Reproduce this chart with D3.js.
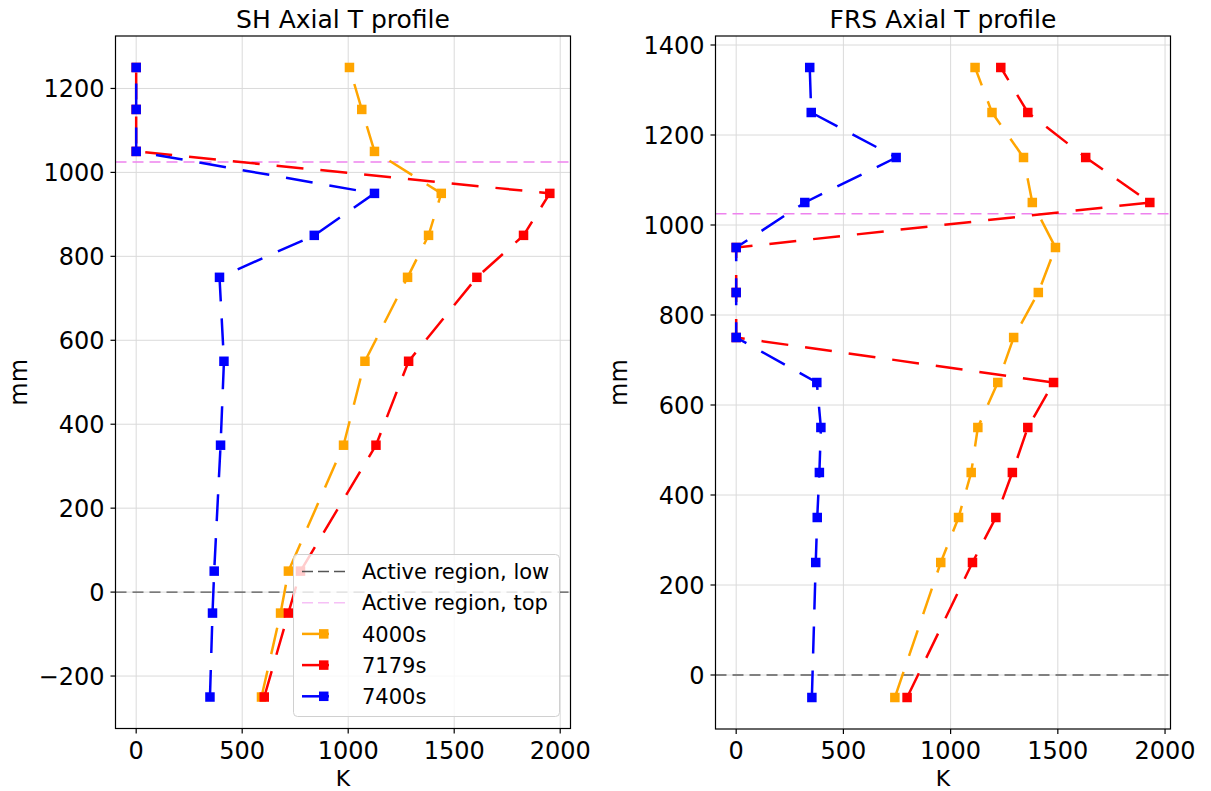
<!DOCTYPE html>
<html>
<head>
<meta charset="utf-8">
<script src="https://cdn.jsdelivr.net/npm/d3@7"></script>
<style>
  html, body { margin: 0; padding: 0; background: #fff; }
  svg { display: block; font-family: "DejaVu Sans", sans-serif; }
</style>
</head>
<body>
<svg id="chart" width="1211" height="791"></svg>
<script>
// ---------------- data ----------------
const seriesNames = ["4000s", "7179s", "7400s"];
const seriesColors = ["#ffa500", "#ff0000", "#0000ff"];

// SH Axial T profile
const shHeights = [-250, -50, 50, 350, 550, 750, 850, 950, 1050, 1150, 1250];
const sh4000 = [591, 681, 718, 978, 1079, 1280, 1379, 1439, 1124, 1064, 1006];
const sh7179 = [604, 718, 775, 1131, 1285, 1607, 1827, 1951, 0, 0, 0];
const sh7400 = [348, 360, 368, 398, 414, 393, 840, 1124, 0, 0, 0];

// FRS Axial T profile
const frsHeights = [-50, 250, 350, 450, 550, 650, 750, 850, 950, 1050, 1150, 1250, 1350];
const frs4000 = [740, 954, 1037, 1096, 1127, 1220, 1294, 1409, 1489, 1381, 1340, 1193, 1114];
const frs7179 = [797, 1102, 1211, 1288, 1360, 1480, 0, 0, 0, 1929, 1630, 1360, 1234];
const frs7400 = [353, 371, 378, 388, 395, 376, 0, 0, 0, 320, 746, 350, 343];

const activeLow = 0;
const activeTop = 1025;

const xTicks = [0, 500, 1000, 1500, 2000];
const shYTicks = [-200, 0, 200, 400, 600, 800, 1000, 1200];
const frsYTicks = [0, 200, 400, 600, 800, 1000, 1200, 1400];

const legendLabels = ["Active region, low", "Active region, top", "4000s", "7179s", "7400s"];

// ---------------- drawing ----------------
const svg = d3.select("#chart");
const FONT = "DejaVu Sans, sans-serif";

function padDomain(vals) {
  const [a, b] = d3.extent(vals);
  const p = (b - a) * 0.05;
  return [a - p, b + p];
}

function drawPanel(opts) {
  const { left, right, top, bottom, title, heights, series, yTicks, lowStyle, legend } = opts;
  const allX = series.flat();
  const x = d3.scaleLinear().domain(padDomain(allX)).range([left, right]);
  const y = d3.scaleLinear().domain(padDomain(heights)).range([bottom, top]);

  const g = svg.append("g");
  const clipId = "clip" + Math.round(left);
  svg.append("clipPath").attr("id", clipId)
    .append("rect").attr("x", left).attr("y", top).attr("width", right - left).attr("height", bottom - top);

  // grid
  const grid = g.append("g");
  grid.selectAll("line.vx").data(xTicks).enter().append("line")
    .attr("x1", d => x(d)).attr("x2", d => x(d)).attr("y1", top).attr("y2", bottom)
    .attr("stroke", "#dadada").attr("stroke-width", 1);
  grid.selectAll("line.hy").data(yTicks).enter().append("line")
    .attr("y1", d => y(d)).attr("y2", d => y(d)).attr("x1", left).attr("x2", right)
    .attr("stroke", "#dadada").attr("stroke-width", 1);

  const plot = g.append("g").attr("clip-path", `url(#${clipId})`);

  // active region lines
  plot.append("line")
    .attr("x1", left).attr("x2", right).attr("y1", y(activeLow)).attr("y2", y(activeLow))
    .attr("stroke", lowStyle.color).attr("stroke-width", lowStyle.width)
    .attr("stroke-dasharray", "11,6");
  plot.append("line")
    .attr("x1", left).attr("x2", right).attr("y1", y(activeTop)).attr("y2", y(activeTop))
    .attr("stroke", "#ee82ee").attr("stroke-width", 1.5)
    .attr("stroke-dasharray", "11,6");

  // series
  const line = d3.line().x(d => x(d[0])).y(d => y(d[1]));
  series.forEach((vals, i) => {
    const pts = vals.map((v, j) => [v, heights[j]]);
    plot.append("path").datum(pts)
      .attr("d", line).attr("fill", "none")
      .attr("stroke", seriesColors[i]).attr("stroke-width", 2.5)
      .attr("stroke-dasharray", "27,17");
    plot.selectAll(null).data(pts).enter().append("rect")
      .attr("x", d => x(d[0]) - 4.75).attr("y", d => y(d[1]) - 4.75)
      .attr("width", 9.5).attr("height", 9.5)
      .attr("fill", seriesColors[i]);
  });

  // frame
  g.append("rect").attr("x", left).attr("y", top)
    .attr("width", right - left).attr("height", bottom - top)
    .attr("fill", "none").attr("stroke", "#000").attr("stroke-width", 1.2);

  // x ticks
  const xa = g.append("g");
  xa.selectAll("line").data(xTicks).enter().append("line")
    .attr("x1", d => x(d)).attr("x2", d => x(d)).attr("y1", bottom).attr("y2", bottom + 5)
    .attr("stroke", "#000").attr("stroke-width", 1.2);
  xa.selectAll("text").data(xTicks).enter().append("text")
    .attr("x", d => x(d)).attr("y", bottom + 30)
    .attr("text-anchor", "middle").attr("font-size", 24).attr("font-family", FONT)
    .attr("fill", "#000").text(d => d3.format("d")(d));

  // y ticks
  const ya = g.append("g");
  ya.selectAll("line").data(yTicks).enter().append("line")
    .attr("y1", d => y(d)).attr("y2", d => y(d)).attr("x1", left - 5).attr("x2", left)
    .attr("stroke", "#000").attr("stroke-width", 1.2);
  ya.selectAll("text").data(yTicks).enter().append("text")
    .attr("x", left - 11).attr("y", d => y(d) + 8.7)
    .attr("text-anchor", "end").attr("font-size", 24).attr("font-family", FONT)
    .attr("fill", "#000").text(d => d < 0 ? "\u2212" + Math.abs(d) : String(d));

  // labels
  const cx = (left + right) / 2;
  g.append("text").attr("x", cx).attr("y", 28)
    .attr("text-anchor", "middle").attr("font-size", 25).attr("font-family", FONT)
    .text(title);
  g.append("text").attr("x", cx).attr("y", 786)
    .attr("text-anchor", "middle").attr("font-size", 22).attr("font-family", FONT)
    .text("K");
  g.append("text")
    .attr("transform", `translate(${left - 89},${(top + bottom) / 2}) rotate(-90)`)
    .attr("text-anchor", "middle").attr("font-size", 24).attr("font-family", FONT)
    .text("mm");

  if (legend) {
    const lx = right - 277, ly = bottom - 174, lw = 266, lh = 162;
    const lg = g.append("g");
    lg.append("rect").attr("x", lx).attr("y", ly).attr("width", lw).attr("height", lh)
      .attr("rx", 4).attr("fill", "#fff").attr("fill-opacity", 0.8)
      .attr("stroke", "#d0d0d0").attr("stroke-width", 1);
    const rowY = i => ly + 17 + i * 31.2;
    const hx0 = lx + 8.5, hx1 = lx + 52;
    legendLabels.forEach((lab, i) => {
      const yy = rowY(i);
      if (i === 0) {
        lg.append("line").attr("x1", hx0).attr("x2", hx1).attr("y1", yy).attr("y2", yy)
          .attr("stroke", lowStyle.color).attr("stroke-width", lowStyle.width)
          .attr("stroke-dasharray", "11,5");
      } else if (i === 1) {
        lg.append("line").attr("x1", hx0).attr("x2", hx1).attr("y1", yy).attr("y2", yy)
          .attr("stroke", "#ee82ee").attr("stroke-width", 1.5).attr("stroke-opacity", 0.5)
          .attr("stroke-dasharray", "11,5");
      } else {
        const c = seriesColors[i - 2];
        lg.append("line").attr("x1", hx0).attr("x2", hx1).attr("y1", yy).attr("y2", yy)
          .attr("stroke", c).attr("stroke-width", 2.5).attr("stroke-dasharray", "27,17");
        lg.append("rect").attr("x", (hx0 + hx1) / 2 - 4.75).attr("y", yy - 4.75)
          .attr("width", 9.5).attr("height", 9.5).attr("fill", c);
      }
      lg.append("text").attr("x", lx + 68.5).attr("y", yy + 7.6)
        .attr("font-size", 21).attr("font-family", FONT).attr("fill", "#000")
        .text(lab);
    });
  }
}

drawPanel({
  left: 115.5, right: 570.5, top: 36, bottom: 728.5,
  title: "SH Axial T profile",
  heights: shHeights,
  series: [sh4000, sh7179, sh7400],
  yTicks: shYTicks,
  lowStyle: { color: "#555555", width: 1.3 },
  legend: true
});

drawPanel({
  left: 715.5, right: 1170.5, top: 36, bottom: 729,
  title: "FRS Axial T profile",
  heights: frsHeights,
  series: [frs4000, frs7179, frs7400],
  yTicks: frsYTicks,
  lowStyle: { color: "#808080", width: 2 },
  legend: false
});
</script>
</body>
</html>
